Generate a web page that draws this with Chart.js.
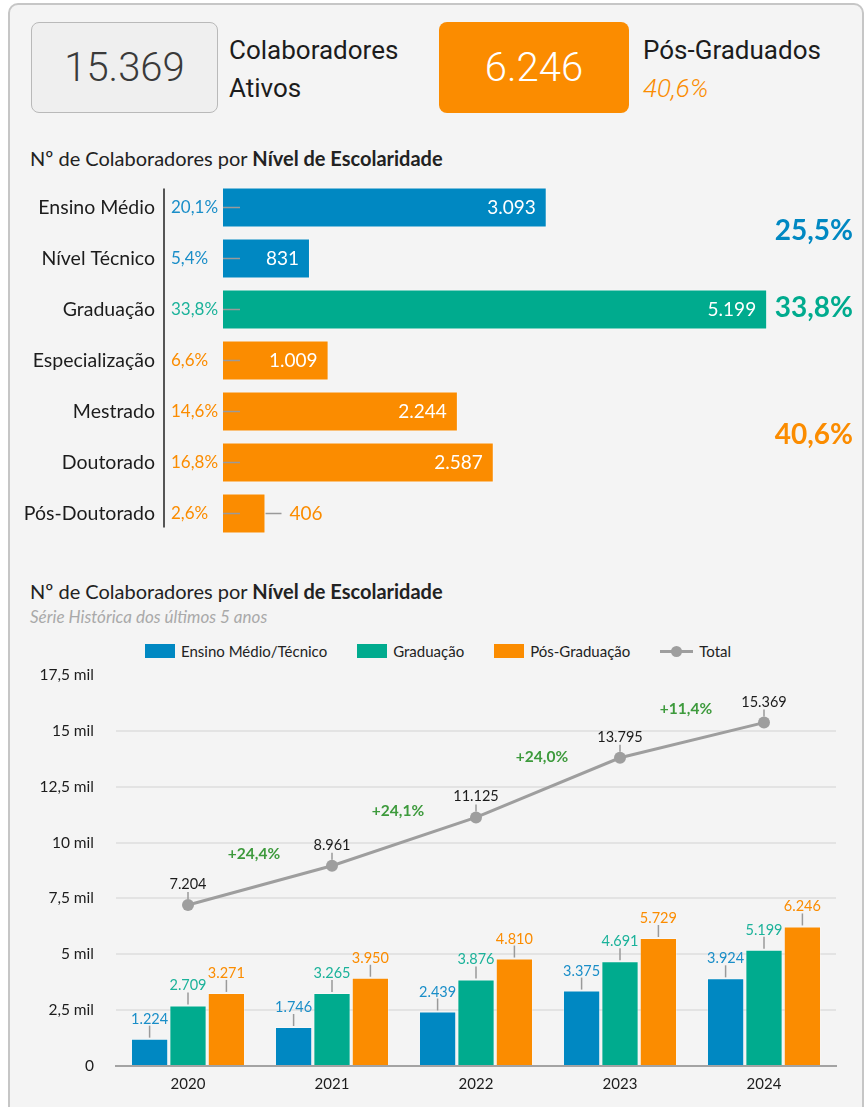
<!DOCTYPE html>
<html lang="pt-BR">
<head>
<meta charset="utf-8">
<script src="https://cdn.jsdelivr.net/npm/chart.js@4.4.1/dist/chart.umd.min.js"></script>
<style>
  body { margin: 0; width: 864px; height: 1107px; overflow: hidden; position: relative; background: #fff; font-family: Lato, sans-serif; color: #222; }
  .painel { position: absolute; left: 8px; top: 3px; width: 856px; height: 1140px; box-sizing: border-box; background: #f4f4f4; border: 2px solid #c6c6c6; border-radius: 10px; }
  .abs { position: absolute; white-space: nowrap; }
  .kpi { position: absolute; top: 22px; height: 91px; box-sizing: border-box; border-radius: 8px; display: flex; align-items: center; justify-content: center; font-family: Roboto, sans-serif; font-weight: 300; font-size: 40px; }
  .kpi-texto { font-family: Roboto, sans-serif; font-size: 26px; line-height: 38px; color: #1c1c1c; }
  .titulo { font-size: 20px; line-height: 24px; }
  .titulo b { font-weight: 700; }
  .sub { font-size: 17px; line-height: 20px; font-style: italic; color: #a9a9a9; }
  .legenda { position: absolute; top: 643px; left: 145px; display: flex; align-items: center; font-size: 15px; line-height: 16px; color: #222; }
  .legenda .item { display: flex; align-items: center; margin-right: 30px; }
  .legenda .caixa { width: 30px; height: 14px; margin-right: 6px; }
  .legenda .linha { position: relative; width: 33px; height: 14px; margin-right: 6px; }
  .legenda .linha::before { content: ''; position: absolute; left: 0; right: 0; top: 6px; height: 3px; background: #9e9e9e; }
  .legenda .linha::after { content: ''; position: absolute; left: 11px; top: 2px; width: 11px; height: 11px; border-radius: 50%; background: #9e9e9e; }
  canvas { position: absolute; left: 0; }
</style>
</head>
<body>
<div class="painel"></div>

<div class="kpi" id="kpiTotal" style="left:31px;width:187px;background:#efefef;border:1.5px solid #b9b9b9;color:#3a3a3a;"></div>
<div class="abs kpi-texto" style="left:229px;top:31px;">Colaboradores<br>Ativos</div>
<div class="kpi" id="kpiPos" style="left:439px;width:190px;background:#fb8c00;color:#fff;"></div>
<div class="abs kpi-texto" style="left:643px;top:31px;">Pós-Graduados</div>
<div class="abs kpi-texto" id="kpiPct" style="left:643px;top:69px;font-style:italic;font-weight:300;font-size:26px;color:#fb8c00;"></div>

<div class="abs titulo" style="left:30px;top:146px;">Nº de Colaboradores por <b>Nível de Escolaridade</b></div>
<canvas id="nivel" width="864" height="365" style="top:180px;"></canvas>

<div class="abs titulo" style="left:30px;top:579px;">Nº de Colaboradores por <b>Nível de Escolaridade</b></div>
<div class="abs sub" style="left:30px;top:607px;">Série Histórica dos últimos 5 anos</div>
<div class="legenda" id="legenda"></div>
<canvas id="historico" width="864" height="447" style="top:660px;"></canvas>

<script>
// Distribuição atual por nível de escolaridade
const niveis = ['Ensino Médio', 'Nível Técnico', 'Graduação', 'Especialização', 'Mestrado', 'Doutorado', 'Pós-Doutorado'];
const colaboradores = [3093, 831, 5199, 1009, 2244, 2587, 406];
const grupos = ['Ensino Médio/Técnico', 'Graduação', 'Pós-Graduação'];
const grupoDoNivel = [0, 0, 1, 2, 2, 2, 2];

// Série histórica
const anos = ['2020', '2021', '2022', '2023', '2024'];
const medioTecnico = [1224, 1746, 2439, 3375, 3924];
const graduacao = [2709, 3265, 3876, 4691, 5199];
const posGraduacao = [3271, 3950, 4810, 5729, 6246];
const totalAno = [7204, 8961, 11125, 13795, 15369];

const corGrupo = ['#0088c2', '#00ab8e', '#fb8c00'];
const corTexto = ['#1a8ec8', '#1bb29a', '#fb8c00'];

function fmt(n) { return String(n).replace(/\B(?=(\d{3})+(?!\d))/g, '.'); }
function pct(x) { return (x * 100).toFixed(1).replace('.', ',') + '%'; }
function soma(arr) { return arr.reduce((a, b) => a + b, 0); }

const totalGeral = soma(colaboradores);
const totalPos = soma(colaboradores.filter((v, i) => grupoDoNivel[i] === 2));
document.getElementById('kpiTotal').textContent = fmt(totalGeral);
document.getElementById('kpiPos').textContent = fmt(totalPos);
document.getElementById('kpiPct').textContent = pct(totalPos / totalGeral);

// rótulos do gráfico de barras horizontais
const rotulosNivel = {
  id: 'rotulosNivel',
  afterDatasetsDraw(chart) {
    const { ctx, chartArea } = chart;
    const barras = chart.getDatasetMeta(0).data;
    ctx.save();
    ctx.strokeStyle = '#555';
    ctx.lineWidth = 2;
    ctx.beginPath();
    ctx.moveTo(164, barras[0].y - 19);
    ctx.lineTo(164, barras[barras.length - 1].y + 14);
    ctx.stroke();
    barras.forEach((b, i) => {
      const v = colaboradores[i];
      const cor = corTexto[grupoDoNivel[i]];
      ctx.strokeStyle = '#9a9a9a';
      ctx.lineWidth = 1.5;
      ctx.beginPath();
      ctx.moveTo(chartArea.left, b.y);
      ctx.lineTo(chartArea.left + 17, b.y);
      ctx.stroke();
      ctx.textBaseline = 'middle';
      ctx.font = '17px Lato';
      ctx.fillStyle = cor;
      ctx.textAlign = 'left';
      ctx.fillText(pct(v / totalGeral), 171, b.y);
      ctx.font = '19px Lato';
      if (b.x - b.base > 60) {
        ctx.fillStyle = '#fff';
        ctx.textAlign = 'right';
        ctx.fillText(fmt(v), b.x - 11, b.y);
      } else {
        ctx.beginPath();
        ctx.moveTo(b.x, b.y);
        ctx.lineTo(b.x + 16, b.y);
        ctx.stroke();
        ctx.fillStyle = cor;
        ctx.textAlign = 'left';
        ctx.fillText(fmt(v), b.x + 24, b.y);
      }
    });
    grupos.forEach((g, k) => {
      const idx = grupoDoNivel.map((gr, i) => gr === k ? i : -1).filter(i => i >= 0);
      const y = soma(idx.map(i => barras[i].y)) / idx.length;
      const valor = soma(idx.map(i => colaboradores[i]));
      ctx.font = 'bold 28px Lato';
      ctx.fillStyle = corGrupo[k];
      ctx.textAlign = 'right';
      ctx.fillText(pct(valor / totalGeral), 853, y - 2);
    });
    ctx.restore();
  }
};

new Chart(document.getElementById('nivel'), {
  type: 'bar',
  data: {
    labels: niveis,
    datasets: [{
      data: colaboradores,
      backgroundColor: grupoDoNivel.map(g => corGrupo[g]),
      borderColor: 'rgba(255,255,255,0.35)',
      borderWidth: 1,
      categoryPercentage: 0.78,
      barPercentage: 1
    }]
  },
  options: {
    indexAxis: 'y',
    responsive: false,
    animation: false,
    layout: { padding: { top: 2, bottom: 6, right: 13, left: 0 } },
    plugins: { legend: { display: false }, tooltip: { enabled: false } },
    scales: {
      x: { display: false, min: 0, max: 6000 },
      y: {
        grid: { display: false, drawTicks: false },
        border: { display: false },
        ticks: { padding: 68, color: '#1c1c1c', font: { family: 'Lato', size: 19.5 } },
        afterFit(scale) {
          scale.width = 223;
          scale.paddingTop = 0;
          scale.paddingBottom = 0;
        }
      }
    }
  },
  plugins: [rotulosNivel]
});

// legenda da série histórica
const legenda = document.getElementById('legenda');
grupos.forEach((g, k) => {
  legenda.insertAdjacentHTML('beforeend',
    `<div class="item"><div class="caixa" style="background:${corGrupo[k]}"></div>${g}</div>`);
});
legenda.insertAdjacentHTML('beforeend', '<div class="item"><div class="linha"></div>Total</div>');

// valores sobre as barras e a linha, e crescimento anual
const rotulosHistorico = {
  id: 'rotulosHistorico',
  afterDatasetsDraw(chart) {
    const { ctx } = chart;
    ctx.save();
    ctx.font = '14.5px Lato';
    ctx.textAlign = 'center';
    ctx.textBaseline = 'alphabetic';
    ctx.lineWidth = 1.5;
    ctx.strokeStyle = '#9a9a9a';
    [0, 1, 2].forEach(d => {
      const serie = chart.data.datasets[d].data;
      chart.getDatasetMeta(d).data.forEach((b, i) => {
        ctx.beginPath();
        ctx.moveTo(b.x, b.y - 1);
        ctx.lineTo(b.x, b.y - 13);
        ctx.stroke();
        ctx.fillStyle = corTexto[d];
        ctx.fillText(fmt(serie[i]), b.x, b.y - 15);
      });
    });
    const pts = chart.getDatasetMeta(3).data;
    pts.forEach((p, i) => {
      ctx.beginPath();
      ctx.moveTo(p.x, p.y - 6);
      ctx.lineTo(p.x, p.y - 13);
      ctx.stroke();
      ctx.fillStyle = '#1c1c1c';
      ctx.fillText(fmt(totalAno[i]), p.x, p.y - 16);
    });
    ctx.font = 'bold 15.5px Lato';
    ctx.fillStyle = '#3d9a3c';
    ctx.textBaseline = 'middle';
    for (let i = 1; i < pts.length; i++) {
      const cresc = totalAno[i] / totalAno[i - 1] - 1;
      const mx = (pts[i].x + pts[i - 1].x) / 2;
      const my = (pts[i].y + pts[i - 1].y) / 2;
      ctx.fillText('+' + pct(cresc), mx - 6, my - 31);
    }
    ctx.restore();
  }
};

new Chart(document.getElementById('historico'), {
  type: 'bar',
  data: {
    labels: anos,
    datasets: [
      { label: grupos[0], data: medioTecnico, backgroundColor: corGrupo[0], order: 1 },
      { label: grupos[1], data: graduacao, backgroundColor: corGrupo[1], order: 1 },
      { label: grupos[2], data: posGraduacao, backgroundColor: corGrupo[2], order: 1 },
      {
        type: 'line', label: 'Total', data: totalAno, order: 0,
        borderColor: '#9e9e9e', borderWidth: 3,
        pointRadius: 6, pointBackgroundColor: '#9e9e9e', pointBorderWidth: 0
      }
    ]
  },
  options: {
    responsive: false,
    animation: false,
    datasets: {
      bar: {
        categoryPercentage: 0.8, barPercentage: 0.97,
        borderColor: 'rgba(255,255,255,0.35)', borderWidth: 1, borderSkipped: 'bottom'
      }
    },
    layout: { padding: { top: 15, right: 28, bottom: 5, left: 0 } },
    plugins: { legend: { display: false }, tooltip: { enabled: false } },
    scales: {
      x: {
        grid: { display: false, drawTicks: false },
        border: { display: true, color: '#a3a3a3', width: 2 },
        ticks: { padding: 9, color: '#1c1c1c', font: { family: 'Lato', size: 15 } }
      },
      y: {
        min: 0,
        max: 17500,
        border: { display: false },
        grid: {
          drawTicks: false,
          lineWidth: 2,
          color: c => (c.tick && (c.tick.value === 17500 || c.tick.value === 0)) ? 'rgba(0,0,0,0)' : '#e3e3e3'
        },
        ticks: {
          stepSize: 2500,
          padding: 22,
          color: '#1c1c1c',
          font: { family: 'Lato', size: 15.5 },
          callback: v => v === 0 ? '0' : String(v / 1000).replace('.', ',') + ' mil'
        },
        afterFit(scale) {
          scale.width = 116;
          scale.paddingTop = 0;
          scale.paddingBottom = 0;
        }
      }
    }
  },
  plugins: [rotulosHistorico]
});
</script>
</body>
</html>
